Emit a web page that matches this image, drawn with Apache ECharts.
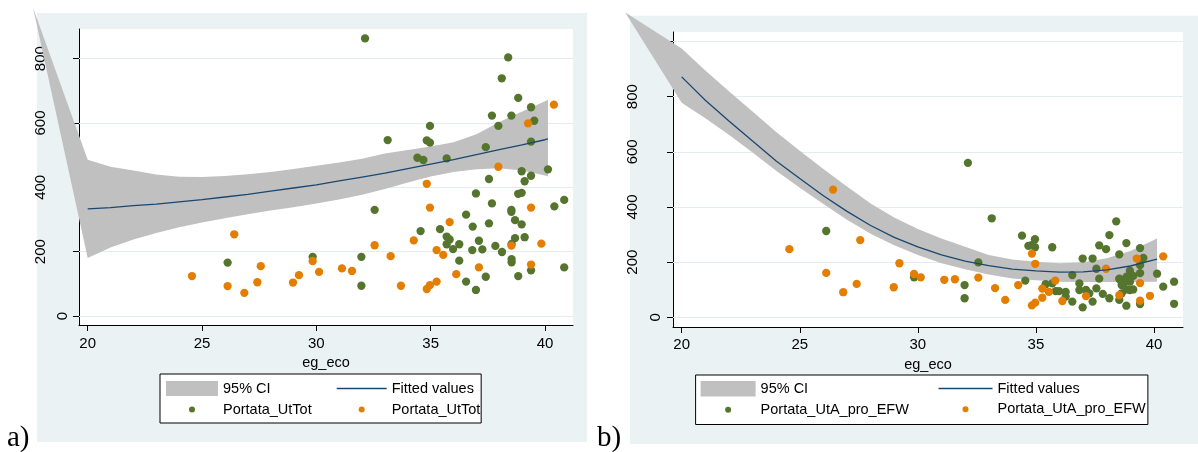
<!DOCTYPE html>
<html><head><meta charset="utf-8">
<script src="https://cdn.jsdelivr.net/npm/echarts@6/dist/echarts.min.js"></script>
<style>html,body{margin:0;padding:0;background:#fff}#c{width:1198px;height:452px}</style>
</head><body><div id="c"></div>
<script>
// ---- tick values ----
const xTicks = [20, 25, 30, 35, 40];
const yTicksA = [0, 200, 400, 600, 800];
const yLabelsB = [0, 200, 400, 600, 800];
const yTicksB = [0, 200, 400, 600, 800, 1000];

// ---- fitted curve & 95% CI ----
const xFit = [20, 21, 22, 23, 24, 25, 26, 27, 28, 29, 30, 31, 32, 33, 34, 35, 36, 37, 38, 39, 40, 40.13];
const fitA  = [333, 337, 343, 348, 355, 362, 370, 378, 388, 398, 408, 420, 432, 444, 458, 472, 486, 502, 517, 532, 548, 551];
const ciHiA = [486, 464, 452, 440, 433, 432, 435, 441, 448, 457, 467, 477, 489, 505, 516, 527, 540, 565, 603, 636, 668, 672];
const ciLoA = [180, 213, 238, 258, 276, 291, 304, 316, 328, 338, 350, 362, 377, 395, 415, 434, 448, 456, 459, 452, 437, 434];
const ciApexA = [17.61, 958];

const fitB  = [872, 787, 712, 639, 567, 503, 441, 384, 333, 290, 255, 226, 204, 187, 175, 168, 164, 165, 172, 186, 208, 211];
const ciHiB = [975, 895, 820, 746, 672, 604, 538, 474, 413, 362, 320, 286, 256, 226, 210, 201, 196, 200, 214, 240, 280, 287];
const ciLoB = [778, 722, 662, 598, 531, 470, 411, 354, 303, 261, 226, 196, 174, 155, 141, 134, 129, 128, 128, 128, 129, 129];
const ciApexB = [17.60, 1106];

// ---- scatter points: panel a) Portata_UtTot ----
const greenA = [
  [26.12,166],[32.13,863],[38.39,804],[38.11,739],[38.83,678],[39.39,649],
  [37.68,623],[38.53,623],[39.53,607],[37.96,591],[34.97,591],
  [33.12,547],[34.83,546],[34.97,539],[39.39,542],[37.41,525],
  [34.42,492],[34.68,485],[35.70,490],[40.13,456],[38.98,450],
  [37.55,426],[39.39,436],[39.11,419],
  [36.98,381],[38.83,380],[38.98,383],[37.68,350],[40.41,341],[40.84,361],
  [38.53,330],[38.53,324],[32.55,330],[36.55,315],[38.69,298],[38.98,285],
  [36.84,278],[37.55,288],[35.41,270],[34.56,264],[35.70,247],[35.83,238],
  [35.70,223],[36.25,223],[35.98,208],[37.11,234],[38.69,242],[39.11,245],
  [38.54,224],[36.82,205],[37.26,207],[37.83,218],[38.12,199],
  [31.97,184],[29.84,184],
  [36.25,172],[38.54,177],[38.54,167],[39.39,142],[40.84,151],
  [37.41,122],[38.83,124],[31.97,94],[36.55,107],[36.98,81]
];
const orangeA = [
  [26.41,254],[24.56,124],[26.12,93],[26.85,72],[27.42,105],[27.57,155],[28.98,104],[29.24,127],
  [40.39,657],[39.26,599],[37.96,464],[34.83,411],[34.97,337],[39.39,337],
  [35.83,292],[34.26,235],[38.53,219],[39.84,225],[35.26,205],[35.55,190],
  [32.55,220],[33.25,186],[29.84,171],[30.12,137],[31.12,148],[31.56,140],
  [37.11,151],[39.39,160],[36.12,130],[33.70,94],[35.26,107],[34.97,96],[34.83,84]
];

// ---- scatter points: panel b) Portata_UtA_pro_EFW ----
const greenB = [
  [26.12,313],[32.12,560],[33.13,359],[38.40,348],[38.11,298],[34.41,296],
  [34.96,283],[34.68,259],[34.96,254],[34.82,262],[35.69,254],
  [38.83,269],[37.68,261],[37.97,247],[39.41,251],
  [38.53,228],[36.98,213],[37.40,213],[39.55,215],[32.56,199],[39.41,189],
  [37.56,176],[36.54,153],[39.41,160],[40.13,158],[37.68,140],
  [38.53,140],[38.98,169],[38.84,147],[39.12,150],[38.98,129],[38.63,117],
  [38.55,138],[38.69,117],[38.84,135],
  [29.84,145],[31.98,117],[31.98,69],[34.55,133],[35.41,120],[35.69,123],
  [35.84,95],[35.98,95],[36.26,92],[36.26,75],[36.54,57],
  [36.84,123],[36.84,99],[37.12,99],[37.26,87],[36.98,36],[37.40,57],
  [37.56,105],[37.83,85],[38.11,69],[38.53,63],[38.63,87],[38.83,42],
  [39.41,48],[40.39,111],[40.85,129],[40.85,49],
  [38.98,99],[39.12,101],[38.83,101]
];
const orangeB = [
  [26.41,463],[24.56,247],[27.56,280],[26.12,161],[26.84,91],[27.41,121],[28.98,109],[29.22,196],
  [34.83,231],[39.27,213],[40.39,221],[34.97,194],[37.97,176],
  [29.84,157],[30.12,145],[31.12,136],[31.57,138],[32.56,144],
  [33.27,106],[33.70,63],[34.25,117],[35.82,133],[35.27,104],[35.55,92],[35.27,71],
  [34.83,43],[34.97,53],[36.12,59],[37.12,77],[38.53,80],[39.41,124],[39.41,60],[39.83,78]
];

// ---- labels ----
const xName = 'eg_eco';
const namesA = ['95% CI', 'Fitted values', 'Portata_UtTot', 'Portata_UtTot'];
const namesB = ['95% CI', 'Fitted values', 'Portata_UtA_pro_EFW', 'Portata_UtA_pro_EFW'];

// ---- styles ----
const FONT = 'Liberation Sans, Arial, sans-serif';
const BG = '#EAF2F3';
const CI_COLOR = '#C0C0C0';
const LINE_COLOR = '#1A476F';
const GREEN = '#55752F';
const ORANGE = '#E37E00';
const GRIDLINE = '#E3ECEE';

const chart = echarts.init(document.getElementById('c'), null, {renderer: 'canvas'});

function tagName(p, i, n) { return p + '::' + i + '::' + n; }
const stripName = n => n.split('::')[2];

function bandSeries(p, idx, apex, hi, lo, gridVals) {
  const poly = [apex].concat(xFit.map((x, i) => [x, hi[i]]))
                     .concat(xFit.map((x, i) => [x, lo[i]]).reverse());
  return {
    type: 'custom', name: tagName(p, 0, (p === 'a' ? namesA : namesB)[0]),
    xAxisIndex: idx, yAxisIndex: idx, clip: false, silent: true,
    itemStyle: {color: CI_COLOR},
    data: [[xFit[0], hi[0]]],
    renderItem: (params, api) => ({
      type: 'polygon',
      shape: {points: poly.map(pt => api.coord(pt))},
      style: {fill: CI_COLOR}
    }),
    markLine: {
      silent: true, z: 1, symbol: ['none', 'none'], animation: false,
      label: {show: false},
      lineStyle: {color: GRIDLINE, width: 1.2, type: 'solid'},
      data: gridVals.map(v => ({yAxis: v}))
    }
  };
}
function fitSeries(p, idx, fit) {
  return {
    type: 'line', name: tagName(p, 1, (p === 'a' ? namesA : namesB)[1]),
    xAxisIndex: idx, yAxisIndex: idx, symbol: 'none', showSymbol: false, silent: true,
    lineStyle: {color: LINE_COLOR, width: 1.3}, itemStyle: {color: LINE_COLOR},
    data: xFit.map((x, i) => [x, fit[i]])
  };
}
function dotSeries(p, idx, k, pts, color) {
  return {
    type: 'scatter', name: tagName(p, k, (p === 'a' ? namesA : namesB)[k]),
    xAxisIndex: idx, yAxisIndex: idx, symbol: 'circle', symbolSize: 8.3, silent: true,
    itemStyle: {color: color, borderWidth: 0, opacity: 1},
    data: pts
  };
}
function dotIcon(w, h) {
  const cx = w / 2, cy = h / 2, r = 3;
  return 'path://M0 0 L0 0 M' + w + ' ' + h + ' L' + w + ' ' + h +
    ' M' + (cx - r) + ' ' + cy + ' A' + r + ' ' + r + ' 0 1 0 ' + (cx + r) + ' ' + cy +
    ' A' + r + ' ' + r + ' 0 1 0 ' + (cx - r) + ' ' + cy + ' Z';
}
const hiddenSym = {color: 'rgba(0,0,0,0)', borderColor: 'rgba(0,0,0,0)', borderWidth: 0};
const legendLine = {color: LINE_COLOR, width: 1.4, type: 'solid'};
function xAxisOpt(idx, min, max, margin, nameGap) {
  return {
    gridIndex: idx, type: 'value', min: min, max: max,
    axisLine: {show: true, onZero: false, lineStyle: {color: '#000', width: 1}},
    axisTick: {show: true, length: 6, customValues: xTicks, lineStyle: {color: '#000', width: 1}},
    axisLabel: {customValues: xTicks, margin: margin, fontSize: 15, color: '#000', fontFamily: FONT},
    splitLine: {show: false},
    name: xName, nameLocation: 'middle', nameGap: nameGap,
    nameTextStyle: {fontSize: 14.5, color: '#000', fontFamily: FONT}
  };
}
function yAxisOpt(idx, min, max, ticks, labels, lhS, lhL) {
  return {
    gridIndex: idx, type: 'value', min: min, max: max,
    axisLine: {show: true, onZero: false, lineStyle: {color: '#000', width: 1}},
    axisTick: {show: true, length: 6, customValues: ticks, lineStyle: {color: '#000', width: 1}},
    axisLabel: {
      customValues: labels, rotate: 90, margin: 4,
      formatter: v => (String(v).length === 1 ? '{s|' : '{l|') + v + '}',
      rich: {
        s: {fontSize: 15, lineHeight: lhS, color: '#000', fontFamily: FONT},
        l: {fontSize: 15, lineHeight: lhL, color: '#000', fontFamily: FONT}
      }
    },
    splitLine: {show: false}
  };
}
function legendOpt(o) {
  return Object.assign({
    orient: 'vertical', selectedMode: false, formatter: stripName,
    itemStyle: {borderWidth: 0},
    textStyle: {fontSize: 14.5, color: '#000', fontFamily: FONT, width: 100, overflow: 'none'}
  }, o);
}

const option = {
  animation: false,
  backgroundColor: '#fff',
  graphic: [
    {type: 'rect', z: -1, shape: {x: 37, y: 13, width: 550, height: 429}, style: {fill: BG}, silent: true},
    {type: 'rect', z: -1, shape: {x: 630, y: 15.7, width: 568, height: 428.3}, style: {fill: BG}, silent: true},
    {type: 'text', z: 10, x: 7, y: 424, style: {text: 'a)', font: '29px "Liberation Serif", "Times New Roman", serif', fill: '#000', verticalAlign: 'top'}},
    {type: 'text', z: 10, x: 597, y: 424, style: {text: 'b)', font: '29px "Liberation Serif", "Times New Roman", serif', fill: '#000', verticalAlign: 'top'}}
  ],
  grid: [
    {left: 79, top: 29, width: 494, height: 296, show: true, backgroundColor: '#fff', borderWidth: 0},
    {left: 673, top: 32, width: 510, height: 295, show: true, backgroundColor: '#fff', borderWidth: 0}
  ],
  xAxis: [
    xAxisOpt(0, 19.62, 41.225, 11, 24.3),
    xAxisOpt(1, 19.632, 41.228, 10.5, 25)
  ],
  yAxis: [
    yAxisOpt(0, -27.98, 892.3, yTicksA, yTicksA, 24.6, 68.4),
    yAxisOpt(1, -35.2, 1034.6, yTicksB, yLabelsB, 26.6, 73)
  ],
  legend: [
    legendOpt({left: 160, top: 374, itemWidth: 52, itemHeight: 15, itemGap: 6,
      padding: [7, 169.5, 6, 6], borderColor: '#000', borderWidth: 1, backgroundColor: '#fff', z: 4,
      data: [{name: tagName('a', 0, namesA[0]), icon: 'rect'}, {name: tagName('a', 2, namesA[2]), icon: dotIcon(52, 15)}]}),
    legendOpt({left: 336, top: 381, itemWidth: 50, itemHeight: 15, itemGap: 6, padding: 0, z: 5,
      data: [{name: tagName('a', 1, namesA[1]), itemStyle: hiddenSym, lineStyle: legendLine},
             {name: tagName('a', 3, namesA[3]), icon: dotIcon(50, 15)}]}),
    legendOpt({left: 695.6, top: 375, itemWidth: 55, itemHeight: 15.5, itemGap: 5.5,
      padding: [6, 239, 7, 5], borderColor: '#000', borderWidth: 1, backgroundColor: '#fff', z: 4,
      textStyle: {fontSize: 14.5, color: '#000', fontFamily: FONT, width: 160, overflow: 'none'},
      data: [{name: tagName('b', 0, namesB[0]), icon: 'rect'}, {name: tagName('b', 2, namesB[2]), icon: dotIcon(55, 15.5)}]}),
    legendOpt({left: 937.8, top: 381, itemWidth: 54, itemHeight: 15.5, itemGap: 5.5, padding: 0, z: 5,
      textStyle: {fontSize: 14.5, color: '#000', fontFamily: FONT, width: 160, overflow: 'none'},
      data: [{name: tagName('b', 1, namesB[1]), itemStyle: hiddenSym, lineStyle: legendLine},
             {name: tagName('b', 3, namesB[3]), icon: dotIcon(54, 15.5)}]})
  ],
  series: [
    bandSeries('a', 0, ciApexA, ciHiA, ciLoA, yTicksA),
    fitSeries('a', 0, fitA),
    dotSeries('a', 0, 2, greenA, GREEN),
    dotSeries('a', 0, 3, orangeA, ORANGE),
    bandSeries('b', 1, ciApexB, ciHiB, ciLoB, yTicksB),
    fitSeries('b', 1, fitB),
    dotSeries('b', 1, 2, greenB, GREEN),
    dotSeries('b', 1, 3, orangeB, ORANGE)
  ]
};
chart.setOption(option);
</script>
</body></html>
